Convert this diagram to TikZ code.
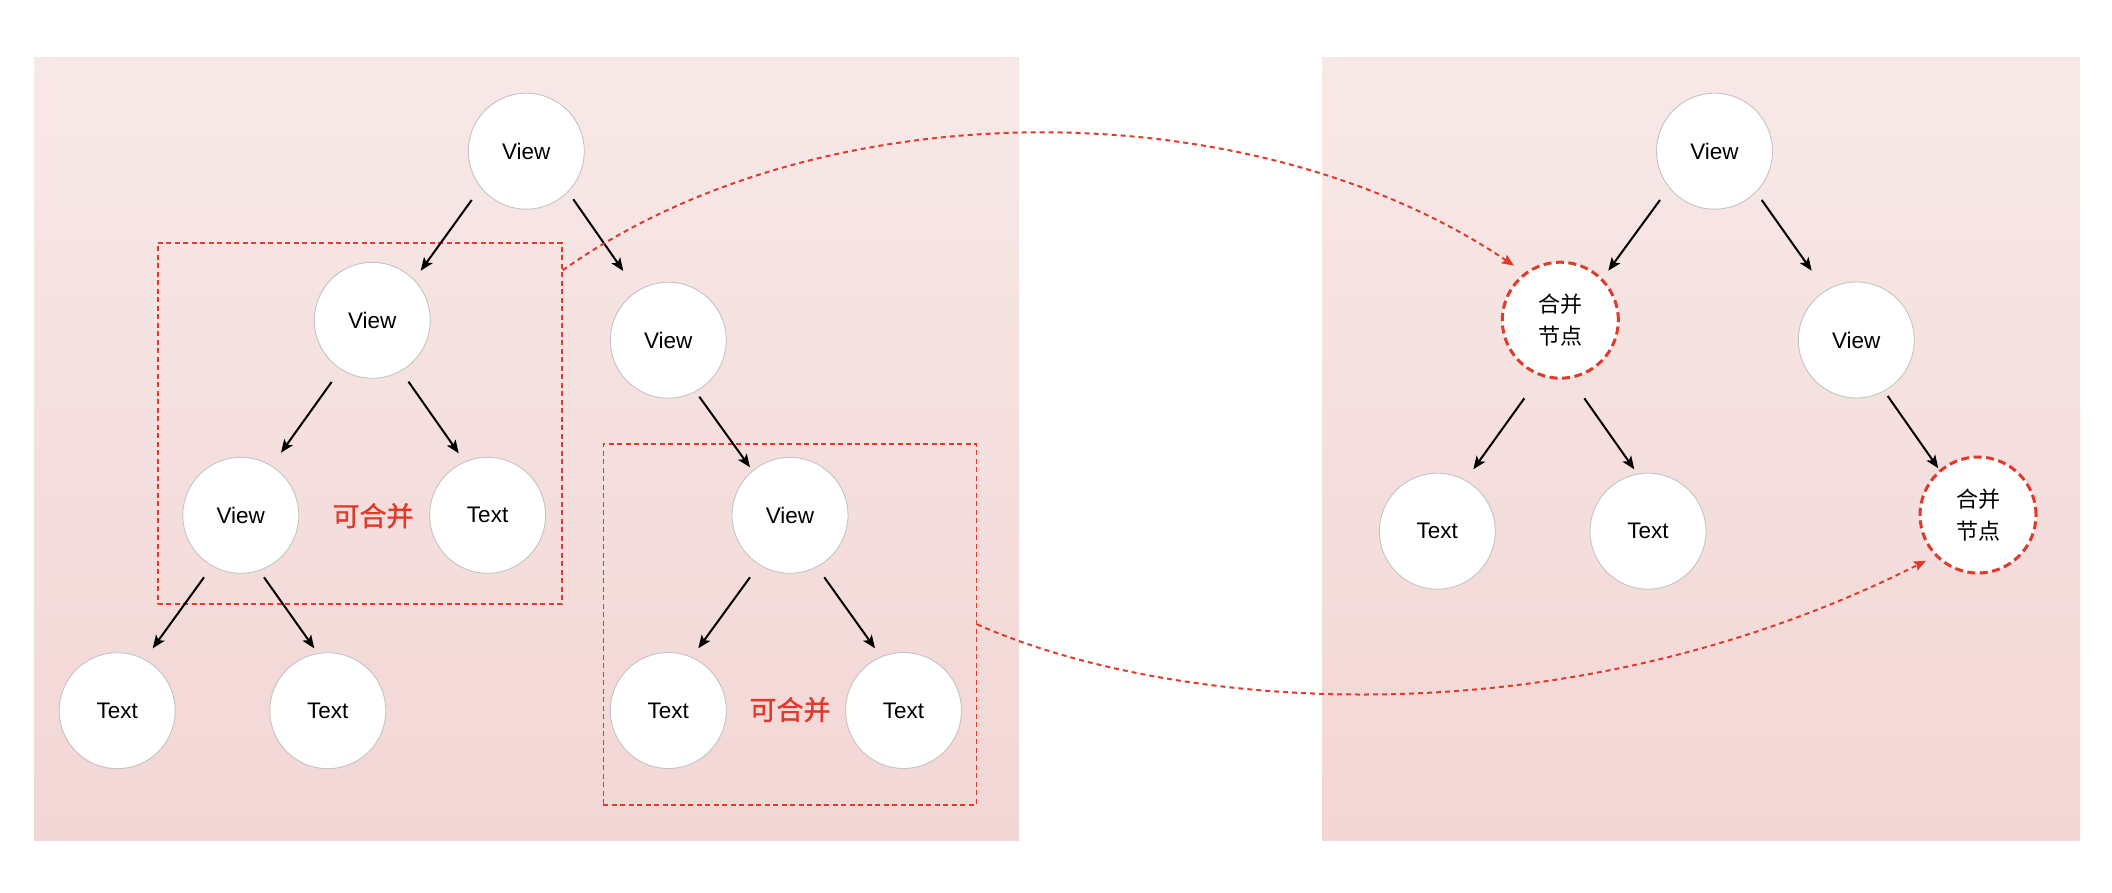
\documentclass[tikz,border=0pt]{standalone}
\usepackage{fontspec}
\setmainfont{Liberation Sans}
\newfontfamily\cjk{Noto Sans CJK SC}
\newfontfamily\cjkm[FakeBold=1.2]{Noto Sans CJK SC}
\usetikzlibrary{arrows.meta,calc}
\definecolor{bgtop}{RGB}{247,233,232}
\definecolor{bgbot}{RGB}{242,214,213}
\definecolor{mred}{RGB}{224,58,43}
\definecolor{cborder}{RGB}{196,196,196}
\begin{document}
\begin{tikzpicture}[x=1pt,y=-1pt,
  tnode/.style={circle,draw=cborder,line width=0.9pt,fill=white,minimum size=116pt,inner sep=0pt,font=\fontsize{22.5}{26}\selectfont},
  mnode/.style={circle,draw=mred,line width=3pt,dash pattern=on 8pt off 4.5pt,fill=white,minimum size=116pt,inner sep=0pt,align=center,font=\cjk\fontsize{22}{32}\selectfont},
  arr/.style={line width=2pt,-{Stealth[length=13pt,width=10.5pt,inset=3pt]}},
  rarr/.style={draw=mred,line width=2pt,dash pattern=on 5pt off 4pt,-{Stealth[length=12pt,width=10pt,inset=2pt,fill=mred]}},
  mbox/.style={draw=mred,line width=1.6pt,dash pattern=on 5pt off 3.5pt,inner sep=0pt,fill=none},
  mlabel/.style={text=mred,font=\cjkm\fontsize{27}{30}\selectfont},
  panel/.style={top color=bgtop,bottom color=bgbot,draw=none}]
\useasboundingbox (0,0) rectangle (2112,892);
\fill[white] (0,0) rectangle (2112,892);
% panels
\path[panel] (34,57) rectangle (1019,840.7);
\path[panel] (1322,57) rectangle (2080,840.7);
% mergeable boxes
\node[mbox,minimum width=404.3pt,minimum height=361pt] (box1) at (359.85,423.2) {};
\node[mbox,minimum width=373pt,minimum height=360.7pt] (box2) at (789.8,624.35) {};
% left tree
\node[tnode] (lroot) at (526.3,151.2) {View};
\node[tnode] (l1) at (372.3,320.3) {View};
\node[tnode] (r1) at (668.3,340.2) {View};
\node[tnode] (l2a) at (240.8,515.3) {View};
\node[tnode] (l2b) at (487.6,515.3) {Text};
\node[tnode] (r2) at (790,515.3) {View};
\node[tnode] (l3a) at (117.2,710.7) {Text};
\node[tnode] (l3b) at (327.8,710.7) {Text};
\node[tnode] (r3a) at (668.3,710.5) {Text};
\node[tnode] (r3b) at (903.5,710.5) {Text};
\node[mlabel] (lab1) at (373,515.8) {可合并};
\node[mlabel] (lab2) at (790,709.7) {可合并};
% right tree
\node[tnode] (rroot) at (1714.5,151.2) {View};
\node[mnode] (m1) at (1560.3,320.2) {合并\\节点};
\node[tnode] (rv) at (1856.3,340) {View};
\node[tnode] (t1) at (1437.3,531.2) {Text};
\node[tnode] (t2) at (1648,531.2) {Text};
\node[mnode] (m2) at (1978,515) {合并\\节点};
% left arrows
\draw[arr] ($(lroot)+(-54.6,48.8)$) -- ($(l1)+(48.4,-49.6)$);
\draw[arr] ($(lroot)+(47,48.1)$) -- ($(r1)+(-45,-69.2)$);
\draw[arr] ($(l1)+(-40.7,61.7)$) -- ($(l2a)+(40.2,-62.6)$);
\draw[arr] ($(l1)+(36.2,61.4)$) -- ($(l2b)+(-28.9,-62)$);
\draw[arr] ($(l2a)+(-36.8,62)$) -- ($(l3a)+(35.5,-62.4)$);
\draw[arr] ($(l2a)+(23.2,62)$) -- ($(l3b)+(-13.5,-62.4)$);
\draw[arr] ($(r1)+(31,56.5)$) -- ($(r2)+(-40,-48)$);
\draw[arr] ($(r2)+(-40,62)$) -- ($(r3a)+(30,-62.2)$);
\draw[arr] ($(r2)+(34.3,62)$) -- ($(r3b)+(-28.5,-62.2)$);
% right arrows
\draw[arr] ($(rroot)+(-54.5,48.8)$) -- ($(m1)+(48,-49.5)$);
\draw[arr] ($(rroot)+(47.2,48.8)$) -- ($(rv)+(-44.6,-69.3)$);
\draw[arr] ($(m1)+(-36,78.1)$) -- ($(t1)+(36,-61.9)$);
\draw[arr] ($(m1)+(24,78.1)$) -- ($(t2)+(-13.7,-61.9)$);
\draw[arr] ($(rv)+(31.4,56)$) -- ($(m2)+(-39.7,-46.7)$);
% merge arrows
\draw[rarr] (box1.37.9) .. controls (820,88) and (1250,88) .. ($(m1)+(-46.3,-54.5)$);
\draw[rarr] (box2.east) .. controls (1170,710) and (1560,745) .. ($(m2)+(-52,45.7)$);
\end{tikzpicture}
\end{document}
